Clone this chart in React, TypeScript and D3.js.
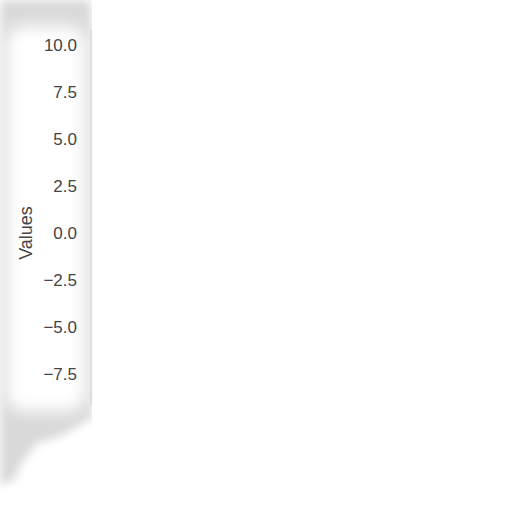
import * as d3 from "d3";
import React from "react";

const yTicks = [10.0, 7.5, 5.0, 2.5, 0.0, -2.5, -5.0, -7.5];
const yDomain = [-7.5, 10];
const yLabel = "Values";

const fmt = (v: number) => v.toFixed(1).replace("-", "\u2212");

export default function App(): React.ReactElement {
  const width = 512;
  const height = 512;
  const axisX = 91;

  const y = d3.scaleLinear().domain(yDomain).range([374, 45]);

  return (
    <svg
      height={height}
      width={width}
      style={{ position: "absolute", left: 0, top: 0, background: "#fff" }}
    >
      <defs>
        <filter id="blurOuter" x="-50%" y="-50%" width="200%" height="200%">
          <feGaussianBlur stdDeviation={5} />
        </filter>
        <filter id="blurInner" x="-50%" y="-50%" width="200%" height="200%">
          <feGaussianBlur stdDeviation={8} />
        </filter>
      </defs>

      {/* smeared backdrop on the left */}
      <path
        d="M0,0 L90,0 L92,20 L92,418 L60,436 L36,444 L22,462 L14,480 L0,485 Z"
        fill="#d9d9d9"
        filter="url(#blurOuter)"
      />
      <rect
        fill="#ffffff"
        filter="url(#blurInner)"
        height={385}
        rx={18}
        width={80}
        x={6}
        y={26}
      />
      <rect fill="#fff" height={512} width={420} x={92} y={0} />

      {/* y axis line */}
      <line stroke="#cccccc" strokeWidth={1} x1={axisX} x2={axisX} y1={30} y2={405} />

      {yTicks.map((t) => (
        <text
          dominantBaseline="central"
          fill="#444"
          fontFamily="'Liberation Sans', Arial, sans-serif"
          fontSize={17}
          key={`yt-${t}`}
          textAnchor="end"
          x={77}
          y={y(t)}
        >
          {fmt(t)}
        </text>
      ))}

      <text
        dominantBaseline="central"
        fill="#444"
        fontFamily="'Liberation Sans', Arial, sans-serif"
        fontSize={18}
        textAnchor="middle"
        transform={`translate(26,${y(0)}) rotate(-90)`}
      >
        {yLabel}
      </text>
    </svg>
  );
}
